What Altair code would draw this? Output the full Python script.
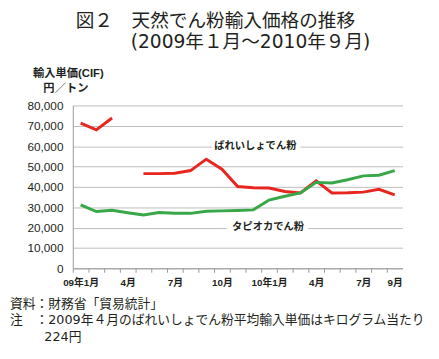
import altair as alt
import pandas as pd

months = ["2009-01", "2009-02", "2009-03", "2009-04", "2009-05", "2009-06", "2009-07",
          "2009-08", "2009-09", "2009-10", "2009-11", "2009-12", "2010-01", "2010-02",
          "2010-03", "2010-04", "2010-05", "2010-06", "2010-07", "2010-08", "2010-09"]
tick_labels = {"2009-01": "09年1月", "2009-04": "4月", "2009-07": "7月", "2009-10": "10月",
               "2010-01": "10年1月", "2010-04": "4月", "2010-07": "7月", "2010-09": "9月"}
# ばれいしょでん粉 (April 2009 = 224,000 yen/t, off the chart -> gap)
potato = [71300, 68000, 73800, None, 46500, 46500, 46700, 48000, 53600, 48700, 40200,
          39600, 39400, 37700, 37000, 43000, 37000, 37100, 37400, 38800, 36100]
# タピオカでん粉
tapioca = [31200, 27900, 28500, 27300, 26200, 27400, 27000, 27000, 28000, 28200, 28400,
           28700, 33500, 35400, 37000, 42200, 41900, 43500, 45400, 45700, 48000]
series_names = ["ばれいしょでん粉", "タピオカでん粉"]
series_colors = ["#e8261f", "#38a748"]

JP = "Noto Sans CJK JP"
MIX = "Liberation Sans, Noto Sans CJK JP"
WIDE = "DejaVu Sans, Noto Sans CJK JP"
INK = "#231f20"

df = pd.DataFrame({
    "month": months * 2,
    "series": [series_names[0]] * len(months) + [series_names[1]] * len(months),
    "value": potato + tapioca,
})

W, H = 336, 166
step = W / len(months)

label_expr = "{" + ",".join(f"'{k}':'{v}'" for k, v in tick_labels.items()) + "}[datum.value] || ''"

lines = alt.Chart(df).mark_line(strokeWidth=3, invalid="break-paths-show-domains").encode(
    x=alt.X("month:O", sort=months,
            scale=alt.Scale(type="point", padding=0.5),
            axis=alt.Axis(title=None, labelExpr=label_expr, labelAngle=0,
                          tickOffset=-step / 2, labelOffset=step / 2,
                          tickSize=4, tickColor="#999999", domainColor="#999999",
                          labelFont=MIX, labelFontSize=10, labelFontWeight="bold",
                          labelColor=INK, labelPadding=6, grid=False)),
    y=alt.Y("value:Q", scale=alt.Scale(domain=[0, 80000], nice=False),
            axis=alt.Axis(title=None, values=list(range(0, 80001, 10000)), format=",d",
                          ticks=False, labelPadding=10, labelFont="Liberation Sans",
                          labelFontSize=12, labelColor=INK, domainColor="#999999",
                          gridColor="#bdbdbd", gridWidth=1)),
    color=alt.Color("series:N", scale=alt.Scale(domain=series_names, range=series_colors),
                    legend=None),
)

def text(t, x, y, size, align="left", weight="normal", font=JP):
    return alt.Chart(pd.DataFrame({"t": [t]})).mark_text(
        align=align, baseline="middle", font=font, fontSize=size,
        fontWeight=weight, color=INK
    ).encode(text="t:N", x=alt.value(x), y=alt.value(y))

def blank(x1, x2, y):
    return alt.Chart(pd.DataFrame({"a": [0]})).mark_rule(color="white", strokeWidth=6).encode(
        x=alt.value(x1), x2=alt.value(x2), y=alt.value(y))

layers = [
    blank(142, 232, 41),
    blank(157, 240, 124),
    lines,
    text(series_names[0], 186, 41, 10.5, align="center", weight="bold"),
    text(series_names[1], 199, 124, 10.5, align="center", weight="bold"),
    text("図２　天然でん粉輸入価格の推移", 3, -86, 19, font=MIX),
    text("(2009年１月～2010年９月)", 59, -64, 19, font=WIDE),
    text("輸入単価(CIF)", -4.5, -32, 11.5, align="center", weight="bold", font=MIX),
    text("円／トン", -7, -17, 11.5, align="center", weight="bold"),
    text("資料：財務省「貿易統計」", -64, 202, 13, font=MIX),
    text("注　：2009年４月のばれいしょでん粉平均輸入単価はキログラム当たり", -64, 219, 13, font=WIDE),
    text("224円", -29, 236, 13, font=WIDE),
]

chart = alt.layer(*layers).properties(
    width=W, height=H,
    autosize=alt.AutoSizeParams(type="none"),
    padding={"left": 66, "top": 96, "right": 29, "bottom": 81},
).configure_view(stroke=None)

chart.save("out.html", embed_options={"renderer": "svg", "actions": False})
